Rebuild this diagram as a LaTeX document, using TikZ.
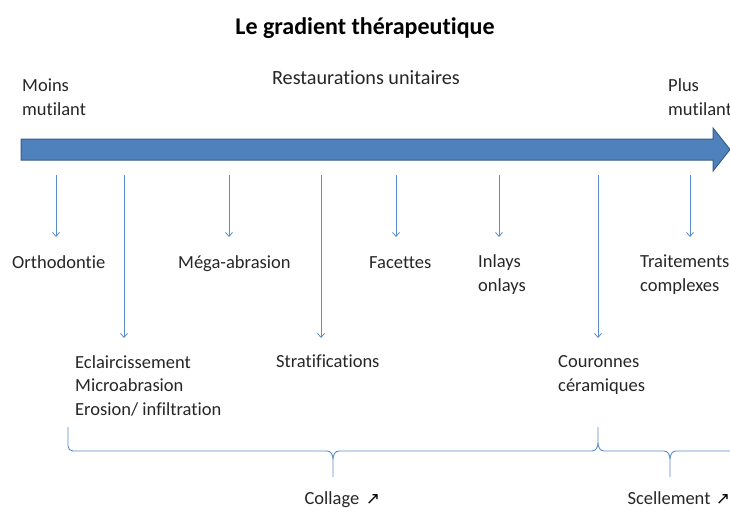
\documentclass[tikz,border=0pt]{standalone}
\usepackage{fontspec}
\setmainfont[Ligatures={NoCommon}]{Carlito}
\newfontfamily\symfont{DejaVu Sans}
\usetikzlibrary{arrows.meta}
\definecolor{ablue}{HTML}{4F81BD}
\definecolor{adark}{HTML}{385D8A}
\definecolor{lblue}{HTML}{5B8BC9}
\begin{document}
\begin{tikzpicture}[x=1pt,y=-1pt,
  lbl/.style={anchor=base west,inner sep=0pt,align=left,font=\fontsize{18.5}{23.5}\selectfont,text=black!85},
  down/.style={draw=lblue,line width=0.8pt,-{Straight Barb[length=4pt,width=7pt]}},
  brace/.style={draw=lblue,line width=0.9pt}]
\useasboundingbox (0,0) rectangle (730,508);
% title
\node[anchor=base,inner sep=0pt,font=\bfseries\fontsize{24}{28}\selectfont] (title) at (365,35) {Le gradient thérapeutique};
% big arrow
\path[fill=ablue,draw=adark,line width=1pt] (21,139) -- (713,139) -- (713,128) -- (730,149.5) -- (713,171) -- (713,160) -- (21,160) -- cycle;
\coordinate (bigarrow) at (365,149.5);
% top labels (multi-line nodes are placed by the baseline of their last line)
\node[lbl] (moins) at (22,115) {Moins\\mutilant};
\node[lbl] (plus) at (668,115) {Plus\\mutilant};
\node[lbl,anchor=base,font=\fontsize{20.2}{24}\selectfont] (rest) at (366,85) {Restaurations unitaires};
% labels row 1
\node[lbl] (ortho) at (12,268) {Orthodontie};
\node[lbl] (mega) at (178,268) {Méga-abrasion};
\node[lbl] (fac) at (369,268) {Facettes};
\node[lbl] (inlays) at (478,291) {Inlays\\onlays};
\node[lbl] (trait) at (640,291) {Traitements\\complexes};
% labels row 2
\node[lbl] (eclair) at (75,415) {Eclaircissement\\Microabrasion\\Erosion/ infiltration};
\node[lbl] (strat) at (276,367) {Stratifications};
\node[lbl] (cour) at (558,391) {Couronnes\\céramiques};
% arrow coordinates
\foreach \n/\x/\y in {a/56/237, b/124/338, c/229/237, d/321/338, e/396/237, f/499/237, g/598/338, h/690/237}{
  \coordinate (s\n) at (\x,175);
  \coordinate (e\n) at (\x,\y);
  \draw[down] (s\n) -- (e\n);
}
% braces
\draw[brace] (68,427) -- (68,446) to[out=-90,in=180] (73,451) -- (327,451) to[out=0,in=90] (333,459) -- (333,477);
\draw[brace] (333,459) to[out=90,in=180] (339,451) -- (592,451) to[out=0,in=-90] (598,443) -- (598,427);
\draw[brace] (598,443) to[out=-90,in=180] (604,451) -- (664,451) to[out=0,in=90] (670,459) -- (670,477);
\draw[brace] (670,459) to[out=90,in=180] (676,451) -- (731,451);
\coordinate (bt1) at (333,477);
\coordinate (bt2) at (670,477);
% bottom labels
\node[lbl,anchor=base] (collage) at (332,504) {Collage};
\node[anchor=base west,inner sep=0pt,font=\symfont\fontsize{17}{18}\selectfont] (up1) at ([xshift=6pt]collage.base east) {↗};
\node[lbl,anchor=base] (scel) at (669,504) {Scellement};
\node[anchor=base west,inner sep=0pt,font=\symfont\fontsize{17}{18}\selectfont] (up2) at ([xshift=5pt]scel.base east) {↗};
\end{tikzpicture}
\end{document}
